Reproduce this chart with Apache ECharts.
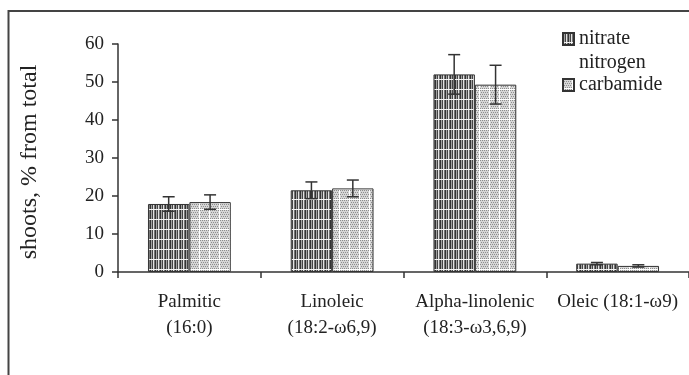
<!DOCTYPE html>
<html>
<head>
<meta charset="utf-8">
<script src="https://cdn.jsdelivr.net/npm/echarts@6/dist/echarts.min.js"></script>
<style>
  html, body { margin: 0; padding: 0; background: #fff; }
  #chart { width: 689px; height: 375px; }
</style>
</head>
<body>
<div id="chart"></div>
<script>
// Fatty acid composition of shoots (% of total)
const categories = ['Palmitic\n(16:0)', 'Linoleic\n(18:2-ω6,9)', 'Alpha-linolenic\n(18:3-ω3,6,9)', 'Oleic (18:1-ω9)'];
const seriesNames = ['nitrate nitrogen', 'carbamide'];
const nitrateValues = [17.9, 21.5, 52.0, 2.2];
const nitrateErrors = [1.9, 2.2, 5.2, 0.3];
const carbamideValues = [18.4, 22.0, 49.3, 1.6];
const carbamideErrors = [1.9, 2.2, 5.1, 0.3];
const yTicks = [0, 10, 20, 30, 40, 50, 60];

const FONT = '"Liberation Serif", "Times New Roman", serif';

// Striped fill: dark vertical hatching crossed by thin white lines
function stripePattern() {
  const c = document.createElement('canvas');
  c.width = 5; c.height = 10;
  const g = c.getContext('2d');
  const cols = ['#333333', '#a2a2a2', '#444444', '#e2e2e2', '#767676'];
  for (let x = 0; x < 5; x++) { g.fillStyle = cols[x]; g.fillRect(x, 0, 1, 10); }
  g.fillStyle = '#f4f4f4';
  g.fillRect(0, 9, 5, 1);
  return { image: c, repeat: 'repeat' };
}

// Dotted fill: light stipple in a white grid
function dotPattern() {
  const c = document.createElement('canvas');
  c.width = 10; c.height = 10;
  const g = c.getContext('2d');
  g.fillStyle = '#d6d6d6';
  g.fillRect(0, 0, 10, 10);
  g.fillStyle = '#8e8e8e';
  for (let y = 0; y < 9; y += 2) {
    for (let x = (y / 2) % 2; x < 9; x += 2) g.fillRect(x, y, 1, 1);
  }
  g.fillStyle = '#ffffff';
  g.fillRect(0, 9, 10, 1);
  g.fillRect(9, 0, 1, 10);
  return { image: c, repeat: 'repeat' };
}

const BAR_CAT_GAP = 0.42;

function errorSeries(values, errors, side) {
  return {
    type: 'custom',
    silent: true,
    z: 5,
    data: values.map((v, i) => [i, v, errors[i]]),
    renderItem: function (params, api) {
      const i = api.value(0);
      const v = api.value(1);
      const e = api.value(2);
      const band = api.size([1, 0])[0];
      const bw = band * (1 - BAR_CAT_GAP) / 2;
      const top = api.coord([i, v + e]);
      const bot = api.coord([i, v - e]);
      const x = top[0] + side * bw / 2;
      const cap = 6;
      const style = { stroke: '#333', lineWidth: 1.5 };
      return {
        type: 'group',
        children: [
          { type: 'line', shape: { x1: x, y1: top[1], x2: x, y2: bot[1] }, style },
          { type: 'line', shape: { x1: x - cap, y1: top[1], x2: x + cap, y2: top[1] }, style },
          { type: 'line', shape: { x1: x - cap, y1: bot[1], x2: x + cap, y2: bot[1] }, style }
        ]
      };
    }
  };
}

const chart = echarts.init(document.getElementById('chart'), null, { renderer: 'canvas' });

chart.setOption({
  animation: false,
  backgroundColor: '#fff',
  textStyle: { fontFamily: FONT, color: '#222' },
  grid: { left: 118, top: 44, bottom: 103, right: -9, containLabel: false },
  legend: {
    orient: 'vertical',
    left: 562,
    top: 3,
    padding: 0,
    itemGap: -2,
    itemWidth: 11,
    itemHeight: 12,
    icon: 'rect',
    selectedMode: false,
    textStyle: { fontFamily: FONT, fontSize: 20, color: '#222', lineHeight: 24 },
    // first line left blank so the swatch sits beside "nitrate"
    formatter: function (name) { return name === seriesNames[0] ? '\u00a0\nnitrate\nnitrogen' : name; },
    data: seriesNames
  },
  xAxis: {
    type: 'category',
    data: categories,
    axisLine: { show: true, lineStyle: { color: '#333', width: 1.5 } },
    axisTick: { show: true, length: 6, lineStyle: { color: '#333', width: 1.5 } },
    axisLabel: {
      interval: 0,
      margin: 17,
      fontFamily: FONT,
      fontSize: 19,
      lineHeight: 26,
      color: '#222'
    },
    splitLine: { show: false }
  },
  yAxis: {
    type: 'value',
    min: yTicks[0],
    max: yTicks[yTicks.length - 1],
    interval: 10,
    name: 'shoots, % from total',
    nameLocation: 'middle',
    nameRotate: 90,
    nameGap: 76,
    nameTextStyle: { fontFamily: FONT, fontSize: 24, color: '#222', padding: [0, 8, 0, 0] },
    axisLine: { show: true, lineStyle: { color: '#333', width: 1.5 } },
    axisTick: { show: true, length: 6, lineStyle: { color: '#333', width: 1.5 } },
    axisLabel: { margin: 14, fontFamily: FONT, fontSize: 19, color: '#222' },
    splitLine: { show: false }
  },
  graphic: [
    { type: 'line', silent: true, shape: { x1: 8, y1: 11, x2: 689, y2: 11 }, style: { stroke: '#444', lineWidth: 2 } },
    { type: 'line', silent: true, shape: { x1: 8.5, y1: 10, x2: 8.5, y2: 375 }, style: { stroke: '#444', lineWidth: 2 } }
  ],
  series: [
    {
      name: seriesNames[0],
      type: 'bar',
      data: nitrateValues,
      barGap: '0%',
      barCategoryGap: (BAR_CAT_GAP * 100) + '%',
      itemStyle: { color: stripePattern(), borderColor: '#333', borderWidth: 1 }
    },
    {
      name: seriesNames[1],
      type: 'bar',
      data: carbamideValues,
      barGap: '0%',
      barCategoryGap: (BAR_CAT_GAP * 100) + '%',
      itemStyle: { color: dotPattern(), borderColor: '#333', borderWidth: 1 }
    },
    errorSeries(nitrateValues, nitrateErrors, -1),
    errorSeries(carbamideValues, carbamideErrors, 1)
  ]
});
</script>
</body>
</html>
